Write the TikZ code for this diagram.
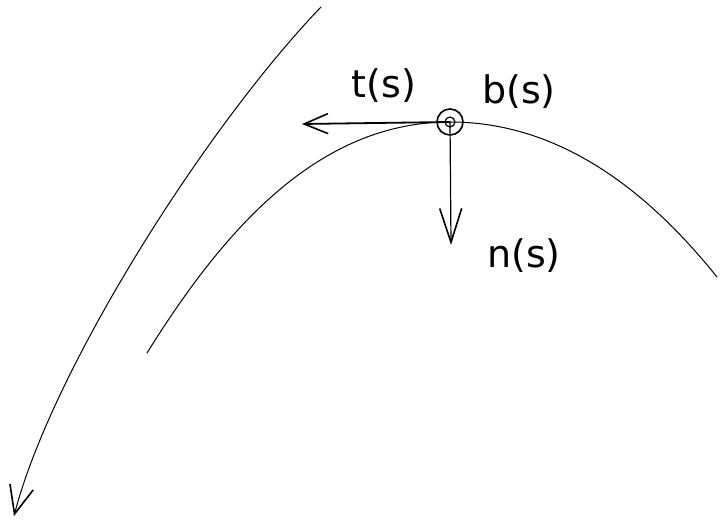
\documentclass[tikz,border=0pt]{standalone}
\usepackage{fontspec}
\setmainfont{DejaVu Sans}
\usepackage{tikz}
\usetikzlibrary{arrows.meta,positioning,calc}

\begin{document}
\begin{tikzpicture}[
  x=0.5pt, y=-0.5pt,
  curve/.style={line width=0.5pt, line cap=round, line join=round},
  vec/.style={-{Straight Barb[length=12pt, width=10pt, line width=0.8pt]}, line width=0.6pt},
  dot/.style={circle, draw, line width=0.8pt, minimum size=13pt, inner sep=0pt},
  lbl/.style={font=\fontsize{19}{21}\selectfont, inner sep=1pt}
]
\useasboundingbox (0,0) rectangle (721,522);

% Point on the curve
\node[dot] (p) at (450,122) {};
\draw[line width=0.6pt] (p.center) circle (2.5pt);

% The curve
\coordinate (cl) at (147,353);
\coordinate (cr) at (717,277);
\draw[curve] (cl) .. controls (226,226) and (320,122) .. (p.center)
  .. controls (560,122) and (648,191) .. (cr);

% Frame vectors
\coordinate (ttip) at (302,124);
\coordinate (ntip) at (451,245);
\draw[vec, line width=0.9pt] (p.center) -- (ttip);
\draw[vec, -{Straight Barb[length=17pt, width=11pt, line width=0.8pt]}] (p.center) -- (ntip);

\node[lbl] (tlab) at (384,86) {t(s)};
\node[lbl] (blab) at (519,92) {b(s)};
\node[lbl] (nlab) at (524,256) {n(s)};

% Long arrow
\coordinate (top) at (321,7);
\coordinate (end) at (14,516);
\draw[curve, -{Straight Barb[length=14pt, width=12pt, line width=0.8pt]}]
  (top) .. controls (205,128) and (52,370) .. (end);
\end{tikzpicture}
\end{document}
